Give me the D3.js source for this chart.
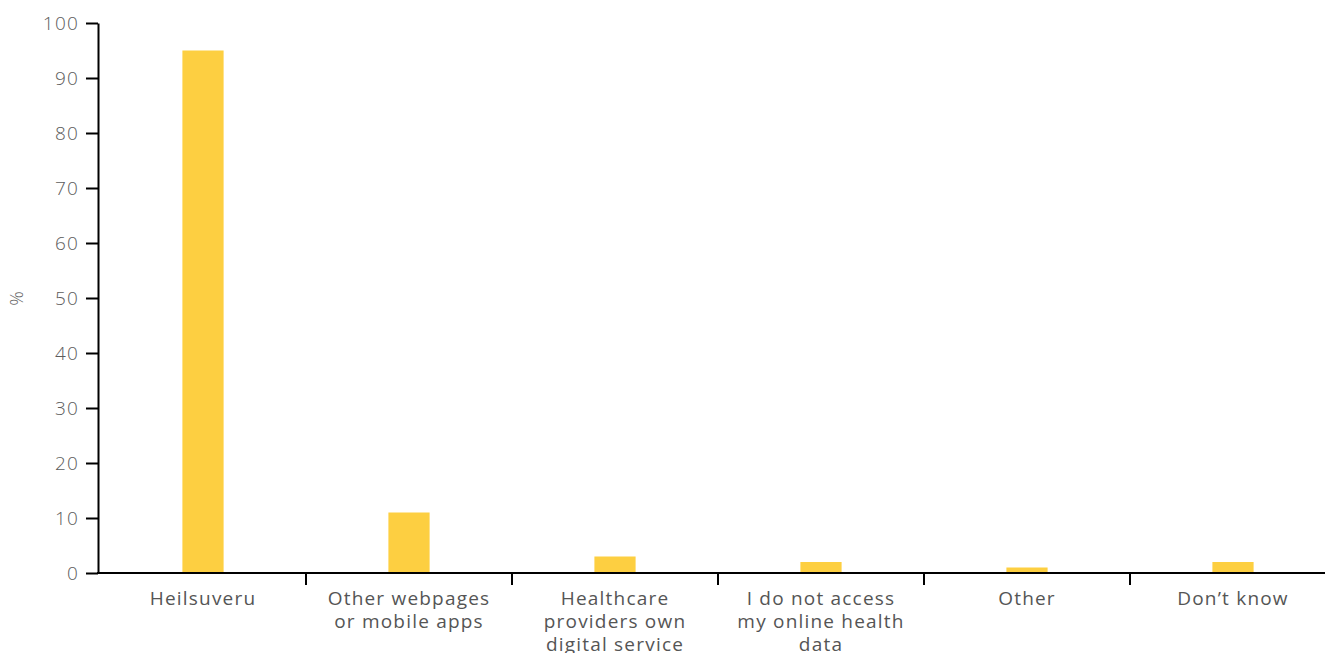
<!DOCTYPE html>
<html><head><meta charset="utf-8">
<script src="https://cdn.jsdelivr.net/npm/d3@7"></script>
<style>body{margin:0;background:#fff}svg{display:block}text{font-family:"Open Sans",sans-serif;letter-spacing:1.2px}</style>
</head><body><svg id="c" width="1325" height="653"></svg>
<script>
const categories = ["Heilsuveru","Other webpages or mobile apps","Healthcare providers own digital service","I do not access my online health data","Other","Don\u2019t know"];
const labelLines = [["Heilsuveru"],["Other webpages","or mobile apps"],["Healthcare","providers own","digital service"],["I do not access","my online health","data"],["Other"],["Don\u2019t know"]];
const values = [95, 11, 3, 2, 1, 2];
const yTicks = [0,10,20,30,40,50,60,70,80,90,100];

const svg = d3.select("#c");
const x = d3.scaleBand().domain(categories).range([100, 1336]).paddingInner(0).paddingOuter(0);
const y = d3.scaleLinear().domain([0,100]).range([573, 23]);
const bw = x.bandwidth()*0.2;

svg.append("g").selectAll("rect").data(values).join("rect")
  .attr("x",(d,i)=>x(categories[i])+x.bandwidth()/2-bw/2)
  .attr("y",d=>y(d)).attr("width",bw).attr("height",d=>y(0)-y(d))
  .attr("fill","#fdcf41");

// y axis
const ya = svg.append("g").attr("transform","translate(98,0)")
  .call(d3.axisLeft(y).tickValues(yTicks).tickSize(12).tickPadding(7).tickSizeOuter(0));
ya.select(".domain").attr("stroke","#000").attr("stroke-width",2);
ya.selectAll(".tick line").attr("stroke","#000").attr("stroke-width",2);
ya.selectAll(".tick text").attr("fill","#5c5c5c").attr("font-size",19).attr("font-weight",300);

// x axis
const xa = svg.append("g").attr("transform","translate(0,573)");
xa.append("line").attr("x1",97).attr("x2",1336).attr("stroke","#000").attr("stroke-width",2);
xa.selectAll(".tk").data(categories.slice(1)).join("line")
  .attr("x1",d=>x(d)).attr("x2",d=>x(d)).attr("y1",0).attr("y2",12)
  .attr("stroke","#000").attr("stroke-width",2);
xa.selectAll(".lbl").data(categories).join("text")
  .attr("text-anchor","middle").attr("fill","#555").attr("font-size",19).attr("font-weight",400)
  .attr("transform",d=>`translate(${x(d)+x.bandwidth()/2},32)`)
  .each(function(d,i){
    const t=d3.select(this);
    labelLines[i].forEach((l,j)=>t.append("tspan").attr("x",0).attr("dy",j?23:0).text(l));
  });

svg.append("text").attr("transform","translate(23,298) rotate(-90)")
  .attr("text-anchor","middle").attr("fill","#666").attr("font-size",18).attr("font-weight",300).text("%");
</script></body></html>
